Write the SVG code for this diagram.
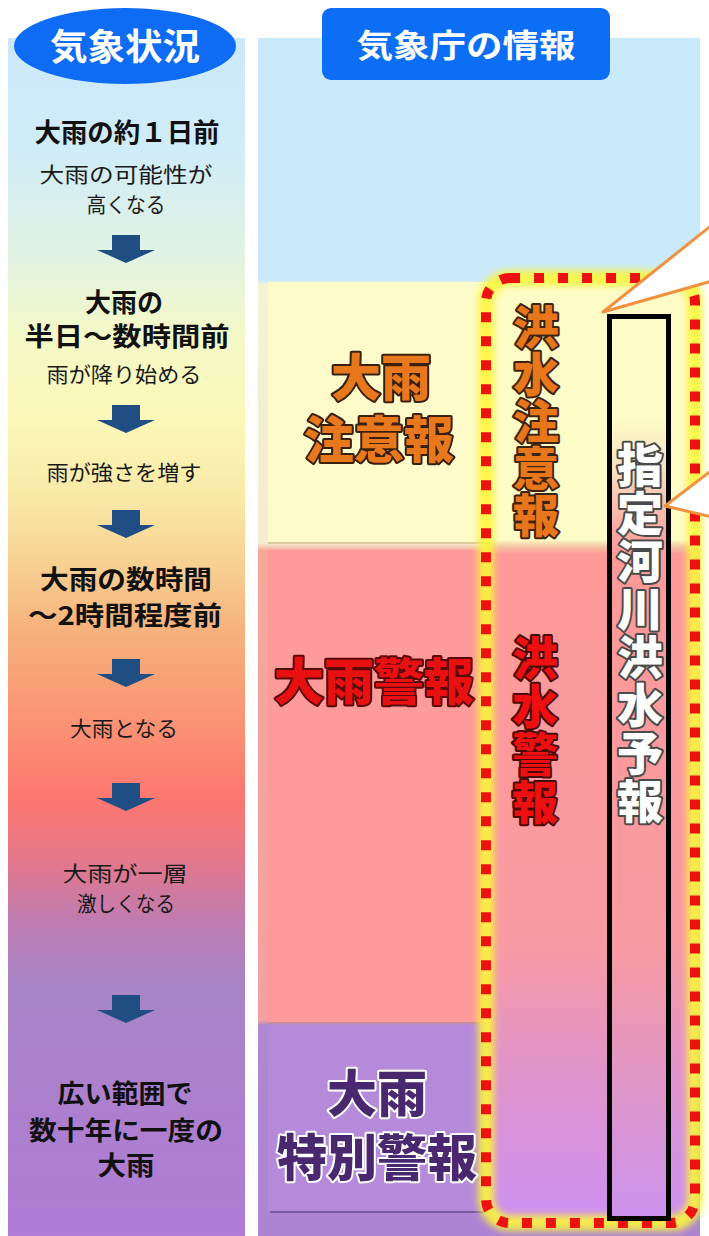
<svg xmlns="http://www.w3.org/2000/svg" width="709" height="1236" viewBox="0 0 709 1236">
<style>
.jp{font-family:"Noto Sans CJK JP","Noto Sans CJK SC",sans-serif;}
.reg{font-size:21px;fill:#1a1a1a;font-weight:400;text-anchor:middle;}
.bld{font-size:26px;fill:#111;font-weight:700;text-anchor:middle;}
.big{font-size:50px;font-weight:900;text-anchor:middle;paint-order:stroke;stroke-linejoin:round;}
.vt{font-size:46px;font-weight:900;writing-mode:vertical-rl;text-anchor:start;paint-order:stroke;stroke-linejoin:round;}
.arrow{fill:#1f4e85;}
.bub{fill:#fff;stroke:none;}
.bubl{fill:none;stroke:#f0913f;stroke-width:3;stroke-linejoin:round;}
</style>
<defs>
<linearGradient id="lcol" gradientUnits="userSpaceOnUse" x1="0" y1="38" x2="0" y2="1236">
<stop offset="0" stop-color="#cbe9fb"/>
<stop offset="0.094" stop-color="#d0ecf8"/>
<stop offset="0.185" stop-color="#e2f3e2"/>
<stop offset="0.244" stop-color="#f3f8c8"/>
<stop offset="0.319" stop-color="#fbf8b8"/>
<stop offset="0.386" stop-color="#f8e8a6"/>
<stop offset="0.436" stop-color="#f7d292"/>
<stop offset="0.494" stop-color="#f6b27c"/>
<stop offset="0.569" stop-color="#fa9474"/>
<stop offset="0.636" stop-color="#fe7670"/>
<stop offset="0.686" stop-color="#e4788a"/>
<stop offset="0.736" stop-color="#c07cb0"/>
<stop offset="0.786" stop-color="#a884c6"/>
<stop offset="1" stop-color="#b07cd6"/>
</linearGradient>
<linearGradient id="rpan" gradientUnits="userSpaceOnUse" x1="0" y1="38" x2="0" y2="1236">
<stop offset="0" stop-color="#c9eafb"/>
<stop offset="0.202" stop-color="#c9eafb"/>
<stop offset="0.206" stop-color="#f4f2d2"/>
<stop offset="0.422" stop-color="#f6ecd0"/>
<stop offset="0.428" stop-color="#f6a898"/>
<stop offset="0.820" stop-color="#f2a0a2"/>
<stop offset="0.824" stop-color="#ae88d2"/>
<stop offset="1" stop-color="#ad84d4"/>
</linearGradient>
<linearGradient id="inner" gradientUnits="userSpaceOnUse" x1="0" y1="278" x2="0" y2="1223">
<stop offset="0" stop-color="#fdfbc6"/>
<stop offset="0.277" stop-color="#fdfbc6"/>
<stop offset="0.284" stop-color="#f2c8a4"/>
<stop offset="0.292" stop-color="#fd9a98"/>
<stop offset="0.700" stop-color="#f89aa2"/>
<stop offset="0.830" stop-color="#e294c8"/>
<stop offset="1" stop-color="#cc90f2"/>
</linearGradient>
<linearGradient id="blk" gradientUnits="userSpaceOnUse" x1="0" y1="316" x2="0" y2="1218">
<stop offset="0" stop-color="#fdfbc6"/>
<stop offset="0.115" stop-color="#fdfbc6"/>
<stop offset="0.17" stop-color="#f8e0c2"/>
<stop offset="0.236" stop-color="#f9aaa2"/>
<stop offset="0.27" stop-color="#fd9a98"/>
<stop offset="0.70" stop-color="#f89aa2"/>
<stop offset="0.85" stop-color="#e096c8"/>
<stop offset="1" stop-color="#cc92ee"/>
</linearGradient>
<filter id="glow" x="-20%" y="-5%" width="140%" height="110%">
<feGaussianBlur stdDeviation="3.5"/>
</filter>
<path id="arr" d="M112,0 H140 V15 H155 L126,28 L97,15 H112 Z"/>
</defs>

<rect width="709" height="1236" fill="#ffffff"/>

<g id="left-column">
<rect x="8" y="38" width="237" height="1198" fill="url(#lcol)"/>
</g>

<g id="header-left">
<ellipse cx="125" cy="46" rx="111" ry="38" fill="#0e6cf4"/>
<text class="jp" x="125" y="60" font-size="36" font-weight="700" fill="#ffffff" text-anchor="middle" textLength="150" lengthAdjust="spacingAndGlyphs">気象状況</text>
</g>

<g id="right-panel">
<rect x="258" y="38" width="442" height="1198" fill="url(#rpan)"/>
<rect x="268" y="282" width="232" height="262" fill="#fdfbc9"/>
<line x1="268" y1="543" x2="500" y2="543" stroke="#cdbb8e" stroke-width="1.5"/>
<rect x="268" y="550" width="232" height="472" fill="#fd9a9a"/>
<line x1="268" y1="1023" x2="500" y2="1023" stroke="#c08a9a" stroke-width="1.5"/>
<rect x="268" y="1025" width="232" height="186" fill="#b68ada"/>
<line x1="270" y1="1212" x2="500" y2="1212" stroke="#6a4a8e" stroke-width="1.5"/>
</g>

<g id="header-right">
<rect x="322" y="8" width="288" height="72" rx="9" fill="#0b6ef5"/>
<text class="jp" x="466" y="57" font-size="32" font-weight="700" fill="#ffffff" text-anchor="middle" textLength="219" lengthAdjust="spacingAndGlyphs">気象庁の情報</text>
</g>

<g id="flood-group">
<rect x="486" y="278" width="209" height="945" rx="24" fill="url(#inner)"/>
<rect x="486" y="278" width="209" height="945" rx="24" fill="none" stroke="#fbf53a" stroke-width="16" opacity="0.9" filter="url(#glow)"/>
<rect x="486" y="278" width="209" height="945" rx="24" fill="none" stroke="#ee1111" stroke-width="10" stroke-dasharray="10 14"/>
</g>

<g id="node-shitei">
<rect x="609.5" y="316.5" width="59" height="902" fill="url(#blk)" stroke="#000" stroke-width="5"/>
<text class="jp vt" x="640" y="442" letter-spacing="1.9" fill="#ffffff" stroke="#4a4a4a" stroke-width="4">指定河川洪水予報</text>
</g>

<g id="node-kouzui-chuiho">
<text class="jp vt" x="536" y="304" letter-spacing="1" fill="#e8761a" stroke="#3c2412" stroke-width="4">洪水注意報</text>
</g>

<g id="node-kouzui-keiho">
<text class="jp vt" x="535" y="635" letter-spacing="2" fill="#ee1010" stroke="#4a0a0a" stroke-width="4">洪水警報</text>
</g>

<g id="node-ooame-chuiho">
<text class="jp big" x="381" y="396" fill="#e8781c" stroke="#3a2010" stroke-width="4">大雨</text>
<text class="jp big" x="379" y="458" fill="#e8781c" stroke="#3a2010" stroke-width="4">注意報</text>
</g>

<g id="node-ooame-keiho">
<text class="jp big" fill="#e81010" stroke="#5a0a0a" stroke-width="4" x="374" y="700">大雨警報</text>
</g>

<g id="node-tokubetsu">
<text class="jp big" x="377" y="1112" fill="#4a2870" stroke="#ffffff" stroke-width="4">大雨</text>
<text class="jp big" x="377" y="1176" fill="#4a2870" stroke="#ffffff" stroke-width="4">特別警報</text>
</g>

<g id="left-texts" class="jp">
<text class="bld" x="127" y="142" font-size="23" textLength="185" lengthAdjust="spacingAndGlyphs">大雨の約１日前</text>
<text class="reg" x="126" y="182" textLength="173" lengthAdjust="spacingAndGlyphs">大雨の可能性が</text>
<text class="reg" x="126" y="212" textLength="79" lengthAdjust="spacingAndGlyphs">高くなる</text>
<text class="bld" x="124" y="312" textLength="78" lengthAdjust="spacingAndGlyphs">大雨の</text>
<text class="bld" x="127" y="346" textLength="205" lengthAdjust="spacingAndGlyphs">半日～数時間前</text>
<text class="reg" x="124" y="382" textLength="155" lengthAdjust="spacingAndGlyphs">雨が降り始める</text>
<text class="reg" x="124" y="480" textLength="155" lengthAdjust="spacingAndGlyphs">雨が強さを増す</text>
<text class="bld" x="126" y="589" textLength="172" lengthAdjust="spacingAndGlyphs">大雨の数時間</text>
<text class="bld" x="125" y="625" textLength="194" lengthAdjust="spacingAndGlyphs">～2時間程度前</text>
<text class="reg" x="124" y="736" textLength="108" lengthAdjust="spacingAndGlyphs">大雨となる</text>
<text class="reg" x="125" y="881" textLength="125" lengthAdjust="spacingAndGlyphs">大雨が一層</text>
<text class="reg" x="126" y="911" textLength="98" lengthAdjust="spacingAndGlyphs">激しくなる</text>
<text class="bld" x="125" y="1103" textLength="135" lengthAdjust="spacingAndGlyphs">広い範囲で</text>
<text class="bld" x="126" y="1140" textLength="194" lengthAdjust="spacingAndGlyphs">数十年に一度の</text>
<text class="bld" x="126" y="1175" textLength="57" lengthAdjust="spacingAndGlyphs">大雨</text>
</g>

<g id="connectors">
<use href="#arr" class="arrow" y="235"/>
<use href="#arr" class="arrow" y="405"/>
<use href="#arr" class="arrow" y="510"/>
<use href="#arr" class="arrow" y="659"/>
<use href="#arr" class="arrow" y="783"/>
<use href="#arr" class="arrow" y="995"/>
</g>

<g id="callouts">
<polygon class="bub" points="712,226 603,312 712,280"/>
<polyline class="bubl" points="712,225 603,312 712,281"/>
<polygon class="bub" points="712,472 665,506 712,516"/>
<polyline class="bubl" points="712,470 665,506 712,517"/>
</g>
</svg>
